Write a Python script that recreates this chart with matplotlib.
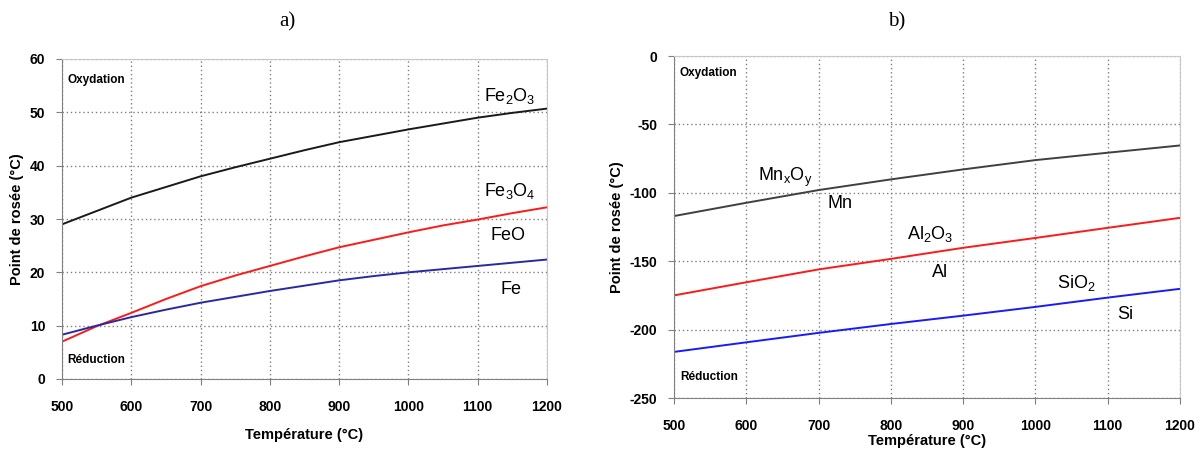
import matplotlib
matplotlib.use("Agg")
import matplotlib.pyplot as plt

# temperatures (°C)
temp_a = [500, 550, 600, 650, 700, 750, 800, 850, 900, 950, 1000, 1050, 1100, 1150, 1200]
temp_b = [500, 600, 700, 800, 900, 1000, 1100, 1200]

# a) iron oxides, dew point (°C)
fe2o3 = [29.0, 31.5, 34.0, 36.0, 38.0, 39.7, 41.3, 42.9, 44.4, 45.6, 46.8, 47.9, 49.0, 49.9, 50.7]
fe3o4 = [7.0, 9.9, 12.4, 15.0, 17.4, 19.4, 21.2, 23.0, 24.7, 26.1, 27.5, 28.8, 29.9, 31.1, 32.2]
fe = [8.3, 10.0, 11.6, 13.0, 14.3, 15.4, 16.5, 17.5, 18.5, 19.3, 20.0, 20.6, 21.2, 21.8, 22.4]

# b) Mn, Al, Si
mnxoy = [-117, -107.3, -98, -90.2, -82.9, -76.1, -70.7, -65.4]
al2o3 = [-175, -165.4, -156, -148.3, -140.2, -133, -125.6, -118.3]
sio2 = [-216.3, -209.3, -202.4, -195.9, -189.8, -183.4, -176.6, -170.2]

xticks = [500, 600, 700, 800, 900, 1000, 1100, 1200]
yticks_a = [0, 10, 20, 30, 40, 50, 60]
yticks_b = [-250, -200, -150, -100, -50, 0]

plt.rcParams['font.family'] = ['Liberation Sans', 'DejaVu Sans']
plt.rcParams['axes.unicode_minus'] = False
plt.rcParams['mathtext.default'] = 'regular'

fig = plt.figure(figsize=(12.04, 4.53), dpi=100)
ax1 = fig.add_axes([62/1204, 1-379/453, 485/1204, 320/453])
ax2 = fig.add_axes([674/1204, 1-398/453, 506/1204, 342/453])


def style(ax, yticks):
    ax.set_xlim(500, 1200)
    ax.set_ylim(yticks[0], yticks[-1])
    ax.set_xticks(xticks)
    ax.set_yticks(yticks)
    ax.grid(True, linestyle=(0, (1, 2)), color='#808080', linewidth=1)
    for s in ['left', 'bottom']:
        ax.spines[s].set_color('#808080')
    for s in ['top', 'right']:
        ax.spines[s].set_color('#c8c8c8')
    ax.tick_params(direction='out', length=4, color='#808080', labelsize=10)
    ax.tick_params(axis='x', pad=11)
    ax.tick_params(axis='y', pad=8)
    for lab in ax.get_xticklabels() + ax.get_yticklabels():
        lab.set_fontweight('bold')
    ax.set_ylabel("Point de rosée (°C)", fontsize=10.5, fontweight='bold', labelpad=4)


style(ax1, yticks_a)
ax1.plot(temp_a, fe2o3, color='#1a1a1a', lw=1.4)
ax1.plot(temp_a, fe3o4, color='#ff1a1a', lw=1.4)
ax1.plot(temp_a, fe, color='#2a2aa0', lw=1.4)
ax1.set_xlabel("Température (°C)", fontsize=10.5, fontweight='bold', labelpad=10)
ax1.text(508, 56, "Oxydation", fontsize=8.5, fontweight='bold', va='center')
ax1.text(508, 3.6, "Réduction", fontsize=8.5, fontweight='bold', va='center')
lab = dict(fontsize=13, ha='center', va='center')
ax1.text(1146, 53.0, r"Fe$_2$O$_3$", **lab)
ax1.text(1146, 35.2, r"Fe$_3$O$_4$", **lab)
ax1.text(1144, 27.0, "FeO", **lab)
ax1.text(1148, 16.7, "Fe", **lab)

style(ax2, yticks_b)
ax2.plot(temp_b, mnxoy, color='#404040', lw=1.4)
ax2.plot(temp_b, al2o3, color='#ff1a1a', lw=1.4)
ax2.plot(temp_b, sio2, color='#1a1aff', lw=1.4)
ax2.set_xlabel("Température (°C)", fontsize=10.5, fontweight='bold', labelpad=1)
ax2.text(508, -12.4, "Oxydation", fontsize=8.5, fontweight='bold', va='center')
ax2.text(508, -234.6, "Réduction", fontsize=8.5, fontweight='bold', va='center')
ax2.text(654, -88.5, r"Mn$_x$O$_y$", **lab)
ax2.text(729, -107.5, "Mn", **lab)
ax2.text(854, -130, r"Al$_2$O$_3$", **lab)
ax2.text(868, -158.6, "Al", **lab)
ax2.text(1057, -165.8, r"SiO$_2$", **lab)
ax2.text(1124, -189.3, "Si", **lab)

fig.text(287/1204, 1-22/453, "a)", fontsize=15, family='Liberation Serif', ha='center', va='center')
fig.text(897/1204, 1-22/453, "b)", fontsize=15, family='Liberation Serif', ha='center', va='center')

fig.savefig("out.png", dpi=100)
